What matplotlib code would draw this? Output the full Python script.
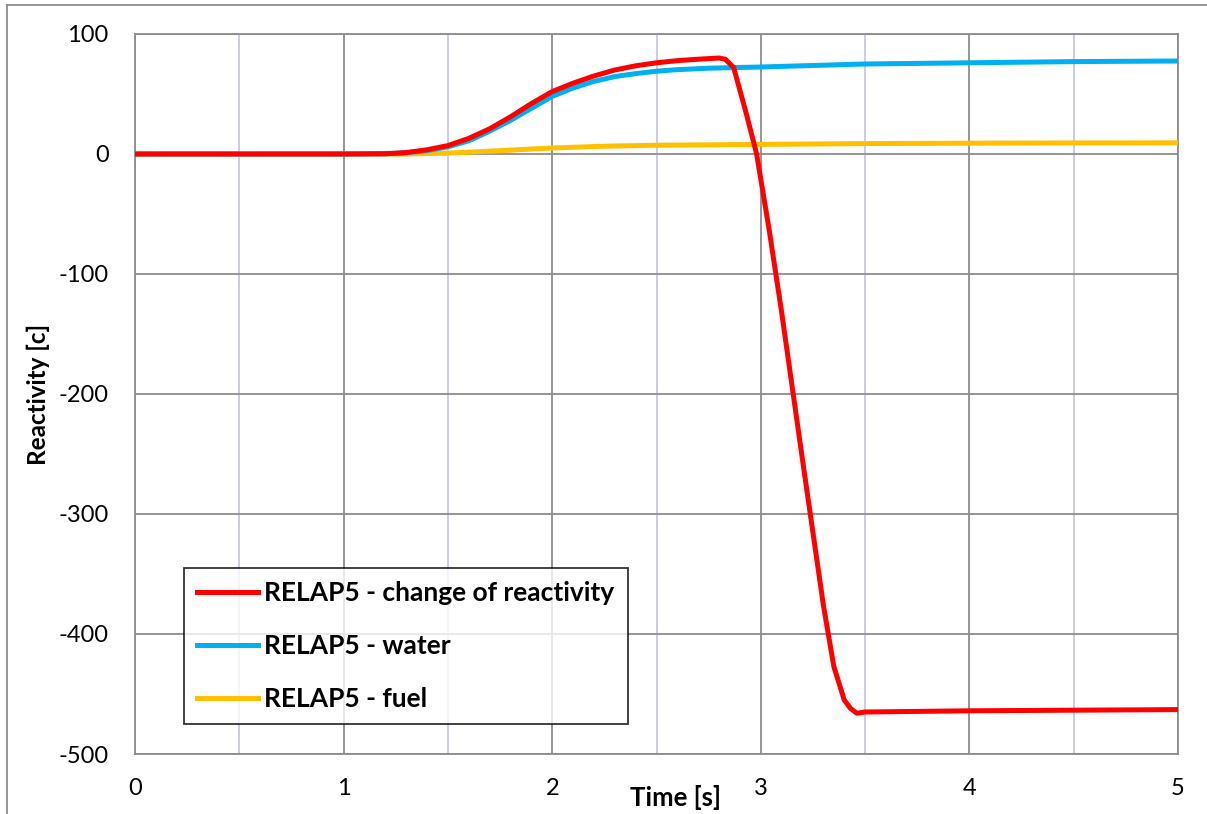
import numpy as np
import matplotlib
matplotlib.use("Agg")
import matplotlib.pyplot as plt
from matplotlib.lines import Line2D
from matplotlib.ticker import MultipleLocator

# =====================
# Données
# =====================
t_change = [0, 0.5, 1.0, 1.2, 1.3, 1.4, 1.5, 1.6, 1.7, 1.8, 1.9, 2.0, 2.1, 2.2, 2.3, 2.4, 2.5, 2.6, 2.7,
            2.8, 2.83, 2.87, 2.93, 2.98, 3.04, 3.1, 3.2, 3.3, 3.35, 3.4, 3.43, 3.46, 3.5, 4.0, 4.5, 5.0]
rho_change = [0, 0, 0, 0.2, 1.2, 3.5, 7, 13, 21, 31, 42, 52, 59, 65, 70, 73.5, 76, 77.8, 79,
              80, 79, 72, 34, 0, -63, -132, -255, -376, -427, -455, -462, -466, -465, -464, -463.5, -463]

t_water = [0, 0.5, 1.0, 1.2, 1.3, 1.4, 1.5, 1.6, 1.7, 1.8, 1.9, 2.0, 2.1, 2.2, 2.3, 2.4, 2.5, 2.6,
           2.75, 3.0, 3.5, 4.0, 4.5, 5.0]
rho_water = [0, 0, 0, 0.2, 1.0, 2.8, 6, 11, 19, 28, 38, 48, 55, 60.5, 64.5, 67, 69, 70.3,
             71.5, 72.5, 75, 76, 77, 77.5]

t_fuel = [0, 0.5, 1.0, 1.3, 1.5, 1.75, 2.0, 2.25, 2.5, 3.0, 3.5, 4.0, 4.5, 5.0]
rho_fuel = [0, 0, 0, 0, 0.7, 2.8, 5, 6.5, 7.3, 8, 8.7, 9, 9.2, 9.3]

labels = ["RELAP5 - change of reactivity", "RELAP5 - water", "RELAP5 - fuel"]
couleurs = ["#ff0000", "#00b0f0", "#ffc000"]

plt.rcParams['font.family'] = ['Lato', 'DejaVu Sans']
plt.rcParams['axes.unicode_minus'] = False

fig = plt.figure(figsize=(12.07, 8.14), dpi=100)
ax = fig.add_axes([135 / 1207, 1 - 754 / 814, (1178 - 135) / 1207, (754 - 34) / 814])

ax.plot(t_change, rho_change, color=couleurs[0], lw=3.6, label=labels[0], zorder=5, solid_joinstyle='round')
ax.plot(t_water, rho_water, color=couleurs[1], lw=3.6, label=labels[1], zorder=4)
ax.plot(t_fuel, rho_fuel, color=couleurs[2], lw=3.6, label=labels[2], zorder=3)

ax.set_xlim(0, 5)
ax.set_ylim(-500, 100)
ax.xaxis.set_major_locator(MultipleLocator(1))
ax.xaxis.set_minor_locator(MultipleLocator(0.5))
ax.yaxis.set_major_locator(MultipleLocator(100))

ax.grid(True, which='major', axis='both', color='#8c8c8c', lw=1.3)
ax.grid(True, which='minor', axis='x', color='#c8c8dc', lw=1.3)
ax.set_axisbelow(True)
for s in ax.spines.values():
    s.set_color('#8c8c8c')
    s.set_linewidth(1.3)

ax.tick_params(axis='both', which='both', length=0, labelsize=17)
ax.tick_params(axis='y', pad=19)
ax.tick_params(axis='x', pad=17)

ax.set_ylabel("Reactivity [c]", fontsize=17.5, fontweight='bold', labelpad=6)
fig.text(675 / 1207, 1 - 797 / 814, "Time [s]", fontsize=18.5, fontweight='bold', ha='center', va='center')

leg = ax.legend(loc='lower left', bbox_to_anchor=((184 - 135) / 1043, (754 - 724) / 720),
                prop={'weight': 'bold', 'size': 19}, frameon=True, fancybox=False,
                edgecolor='black', handlelength=2.3, handletextpad=0.25, labelspacing=1.1,
                borderpad=0.5, borderaxespad=0)
leg.get_frame().set_linewidth(1.3)

# cadre extérieur
fig.add_artist(Line2D([7 / 1207, 7 / 1207], [0, 1 - 5 / 814], color='#8c8c8c', lw=1.3))
fig.add_artist(Line2D([7 / 1207, 1], [1 - 5 / 814, 1 - 5 / 814], color='#8c8c8c', lw=1.3))

fig.savefig("out.png", dpi=100)
